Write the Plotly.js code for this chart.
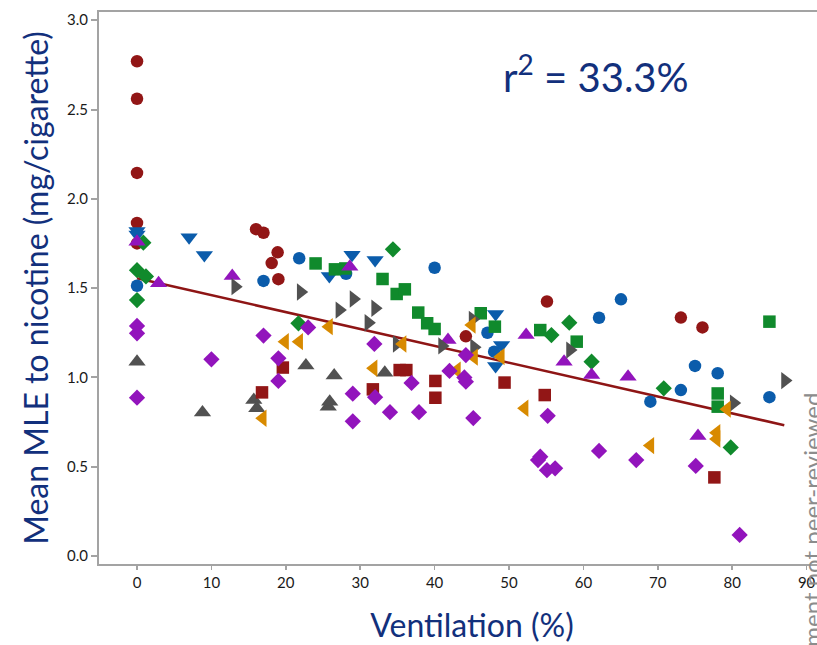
<!DOCTYPE html>
<html>
<head>
<meta charset="utf-8">
<script src="https://cdn.plot.ly/plotly-3.0.1.min.js"></script>
<style>html,body{margin:0;padding:0;background:#fff;overflow:hidden;}#chart{width:845px;height:645px;}</style>
</head>
<body>
<div id="chart"></div>
<script>
// ---- data ----
const redCircleX = [0, 0, 0, 0, 0, 16, 17, 18.9, 18.1, 19, 55.1, 44.2, 73.1, 76];
const redCircleY = [2.77, 2.56, 2.145, 1.865, 1.75, 1.83, 1.81, 1.70, 1.64, 1.55, 1.425, 1.23, 1.335, 1.28];

const blueCircleX = [0, 17, 21.8, 28.1, 40, 47.1, 48, 65.05, 62.1, 75, 78.05, 73.1, 69, 85];
const blueCircleY = [1.513, 1.54, 1.667, 1.58, 1.614, 1.25, 1.144, 1.437, 1.334, 1.064, 1.023, 0.929, 0.864, 0.889];

const blueTriDownX = [0, 0, 7, 9.05, 25.85, 28.9, 32, 48.2, 49, 48.2];
const blueTriDownY = [1.82, 1.80, 1.785, 1.685, 1.568, 1.686, 1.657, 1.355, 1.181, 1.064];

const greenDiamondX = [0.85, 0, 1.2, 0, 34.4, 21.7, 58.1, 55.7, 61.1, 70.8, 79.8];
const greenDiamondY = [1.754, 1.60, 1.565, 1.433, 1.717, 1.303, 1.306, 1.237, 1.088, 0.939, 0.608];

const greenSquareX = [24, 26.6, 28, 33, 34.9, 36, 37.8, 39, 40, 46.2, 48.1, 54.2, 59.1, 85, 78.05, 78.05];
const greenSquareY = [1.638, 1.605, 1.61, 1.551, 1.467, 1.493, 1.363, 1.303, 1.271, 1.359, 1.284, 1.265, 1.2, 1.312, 0.91, 0.836];

const purpleTriUpX = [0, 2.9, 12.8, 28.6, 41.8, 52.3, 57.4, 61.1, 66, 75.4];
const purpleTriUpY = [1.76, 1.527, 1.568, 1.62, 1.21, 1.237, 1.088, 1.013, 1.004, 0.672];

const purpleDiamondX = [0, 0, 0, 10, 17, 19, 19, 23, 31.9, 29, 32, 34, 29, 36.9, 37.9, 42, 44.2, 44, 44.2, 45.2, 55.2, 54.2, 53.9, 55.1, 56.2, 62.1, 67.1, 75.1, 81];
const purpleDiamondY = [1.288, 1.247, 0.886, 1.101, 1.234, 1.107, 0.98, 1.28, 1.187, 0.909, 0.889, 0.805, 0.754, 0.969, 0.805, 1.036, 1.125, 1.0, 0.976, 0.772, 0.785, 0.556, 0.537, 0.48, 0.491, 0.588, 0.537, 0.504, 0.118];

const grayTriUpX = [0, 8.8, 15.7, 16.1, 22.7, 26.5, 25.7, 25.9, 33.3];
const grayTriUpY = [1.088, 0.803, 0.873, 0.827, 1.066, 1.01, 0.836, 0.864, 1.026];

const grayTriRightX = [13.2, 22, 29.1, 27.2, 32, 31.1, 34.9, 41, 45.3, 45.1, 58.2, 80.2, 87.1];
const grayTriRightY = [1.508, 1.478, 1.439, 1.377, 1.387, 1.306, 1.187, 1.176, 1.169, 1.325, 1.153, 0.856, 0.982];

const orangeTriLeftX = [16.9, 19.9, 21.8, 25.8, 31.8, 35.7, 45, 45.3, 43, 48.9, 52.1, 69, 77.9, 77.9, 79.3];
const orangeTriLeftY = [0.771, 1.2, 1.2, 1.284, 1.051, 1.187, 1.293, 1.113, 1.041, 1.116, 0.827, 0.618, 0.69, 0.655, 0.822];

const redSquareX = [16.8, 19.6, 31.7, 35.3, 36.2, 40.1, 40.1, 49.4, 54.8, 77.6];
const redSquareY = [0.916, 1.055, 0.933, 1.041, 1.041, 0.98, 0.886, 0.971, 0.901, 0.44];

const trendX = [0, 87];
const trendY = [1.555, 0.732];

const yTickVals = [0, 0.5, 1.0, 1.5, 2.0, 2.5, 3.0];
const xTickVals = [0, 10, 20, 30, 40, 50, 60, 70, 80, 90];

// ---- styles ----
const RED = '#921616', BLUE = '#0B5CAB', GREEN = '#108A2C', PURPLE = '#9214BC', GRAY = '#515151', ORANGE = '#D88A00';
const NAVY = '#12307C';
const FONT = 'Lato, "Open Sans", sans-serif';

function pts(x, y, color, symbol, size) {
  return {x: x, y: y, type: 'scatter', mode: 'markers', showlegend: false, hoverinfo: 'x+y',
    marker: {color: color, symbol: symbol, size: size, line: {width: 0}}};
}

const traces = [
  {x: trendX, y: trendY, type: 'scatter', mode: 'lines', showlegend: false, line: {color: '#8E1515', width: 2.6}},
  pts(redCircleX, redCircleY, RED, 'circle', 12.5),
  pts(blueCircleX, blueCircleY, BLUE, 'circle', 12.5),
  pts(blueTriDownX, blueTriDownY, BLUE, 'triangle-down', 15),
  pts(greenSquareX, greenSquareY, GREEN, 'square', 12.5),
  pts(greenDiamondX, greenDiamondY, GREEN, 'diamond', 12.5),
  pts(purpleTriUpX, purpleTriUpY, PURPLE, 'triangle-up', 15),
  pts(grayTriUpX, grayTriUpY, GRAY, 'triangle-up', 15),
  pts(grayTriRightX, grayTriRightY, GRAY, 'triangle-right', 15),
  pts(orangeTriLeftX, orangeTriLeftY, ORANGE, 'triangle-left', 15),
  pts(redSquareX, redSquareY, RED, 'square', 12.5),
  pts(purpleDiamondX, purpleDiamondY, PURPLE, 'diamond', 12.5)
];

const layout = {
  width: 845, height: 645,
  margin: {l: 99, r: 0, t: 12, b: 81},
  paper_bgcolor: '#ffffff', plot_bgcolor: '#ffffff',
  font: {family: FONT, color: '#1a1a1a'},
  xaxis: {
    range: [-5.11, 95.16], tickvals: xTickVals, ticktext: xTickVals.map(String),
    showgrid: false, zeroline: false, showline: true, mirror: true,
    linecolor: '#A3A3A3', linewidth: 2, ticks: 'outside', ticklen: 4, tickwidth: 1.5, tickcolor: '#A3A3A3',
    tickfont: {size: 15, color: '#1a1a1a', family: FONT},
    title: {text: 'Ventilation (%)', font: {size: 32, color: NAVY, family: FONT}, standoff: 25}
  },
  yaxis: {
    range: [-0.045, 3.046], tickvals: yTickVals, ticktext: yTickVals.map(v => v.toFixed(1)),
    showgrid: false, zeroline: false, showline: true, mirror: false,
    linecolor: '#A3A3A3', linewidth: 2, ticks: 'outside', ticklen: 6, tickwidth: 2, tickcolor: '#A3A3A3',
    tickfont: {size: 15, color: '#1a1a1a', family: FONT},
    title: {text: 'Mean MLE to nicotine (mg/cigarette)', font: {size: 32, color: NAVY, family: FONT}, standoff: 9}
  },
  annotations: [
    {x: 61.7, y: 2.7, xref: 'x', yref: 'y', text: 'r<sup>2</sup> = 33.3%', showarrow: false,
     font: {size: 40, color: NAVY, family: FONT}},
    {x: 91.0, y: (645 - 391 - 81) / 552, xref: 'x', yref: 'paper', xanchor: 'left', yanchor: 'top',
     xshift: -20, text: 'document not peer-reviewed', textangle: -90, showarrow: false,
     font: {size: 24, color: '#8c8c8c', family: FONT}}
  ]
};

Plotly.newPlot('chart', traces, layout, {displayModeBar: false, staticPlot: true});
</script>
</body>
</html>
